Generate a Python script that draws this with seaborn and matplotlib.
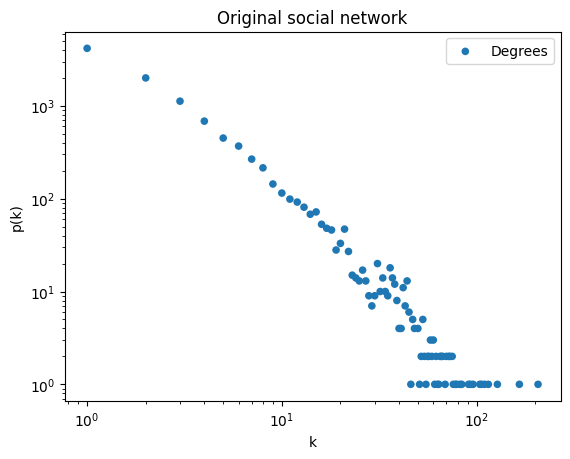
import matplotlib
matplotlib.use("Agg")
import matplotlib.pyplot as plt
import seaborn as sns
import pandas as pd

# degree k -> count p(k)
k_main = [1, 2, 3, 4, 5, 6, 7, 8, 9, 10, 11, 12, 13, 14, 15, 16, 17, 18, 19, 20,
          21, 22, 23, 24, 25, 26, 27, 28, 29, 30, 31, 32, 33, 34, 35, 36, 37, 38, 39, 42,
          43, 44, 45]
p_main = [4170, 2000, 1124, 685, 450, 369, 267, 215, 144, 115, 99, 92, 81, 68, 72, 53, 48, 46, 28, 33,
          47, 27, 15, 14, 13, 17, 13, 9, 7, 9, 20, 10, 14, 10, 9, 18, 14, 12, 8, 11,
          7, 13, 6]
k_five = [47, 53]
k_four = [40, 41, 48, 50]
k_three = [58, 60]
k_two = [52, 54, 56, 57, 59, 62, 65, 66, 67, 70, 72, 73, 75]
k_one = [46, 51, 55, 61, 63, 64, 69, 76, 78, 79, 82, 84, 91, 93, 96, 104, 106, 110, 115, 128, 166, 207]

k_all = k_main + k_five + k_four + k_three + k_two + k_one
p_all = (p_main + [5] * len(k_five) + [4] * len(k_four) + [3] * len(k_three)
         + [2] * len(k_two) + [1] * len(k_one))
df = pd.DataFrame({"k": k_all, "p": p_all})

fig, ax = plt.subplots(figsize=(6.4, 4.8), dpi=100)
sns.scatterplot(data=df, x="k", y="p", ax=ax, color="#1f77b4", s=30,
                edgecolor="none", label="Degrees")
ax.set_xscale("log")
ax.set_yscale("log")
ax.set_title("Original social network")
ax.set_xlabel("k")
ax.set_ylabel("p(k)")
ax.legend(loc="upper right")
fig.savefig("out.png", dpi=100, bbox_inches="tight")
